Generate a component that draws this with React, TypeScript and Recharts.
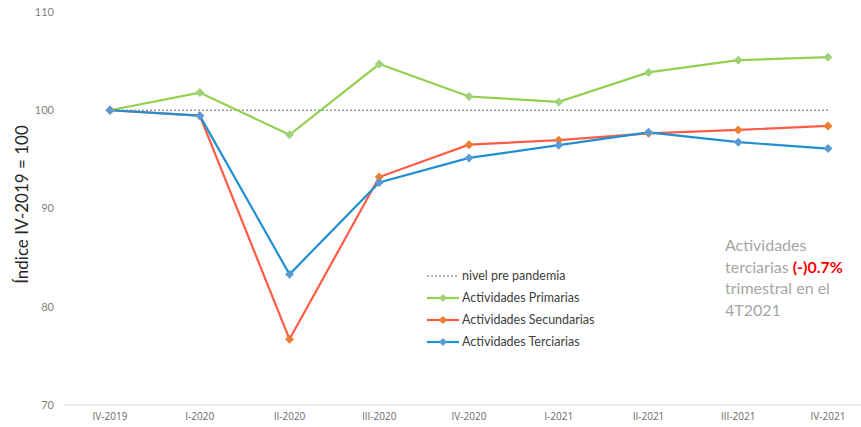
import React from 'react';
import { LineChart, Line, XAxis, YAxis } from 'recharts';

const quarters = ['IV-2019', 'I-2020', 'II-2020', 'III-2020', 'IV-2020', 'I-2021', 'II-2021', 'III-2021', 'IV-2021'];
const nivel = [100, 100, 100, 100, 100, 100, 100, 100, 100];
const primarias = [100, 101.8, 97.5, 104.7, 101.4, 100.85, 103.85, 105.1, 105.4];
const secundarias = [100, 99.45, 76.7, 93.2, 96.5, 96.95, 97.65, 98.0, 98.4];
const terciarias = [100, 99.45, 83.3, 92.65, 95.15, 96.45, 97.75, 96.75, 96.1];
const yTicks = [70, 80, 90, 100, 110];

const data = quarters.map((q, i) => ({
  q,
  nivel: nivel[i],
  primarias: primarias[i],
  secundarias: secundarias[i],
  terciarias: terciarias[i],
}));

const series = [
  { key: 'primarias', name: 'Actividades Primarias', line: '#92d050', dot: '#9fd27a' },
  { key: 'secundarias', name: 'Actividades Secundarias', line: '#ff5b45', dot: '#ed7d31' },
  { key: 'terciarias', name: 'Actividades Terciarias', line: '#2190d0', dot: '#5b9bd5' },
];

const Diamond = (color: string) => (props: any) => {
  const { cx, cy } = props;
  if (cx == null || cy == null) return null;
  const r = 4.5;
  return (
    <path
      d={`M${cx},${cy - r} L${cx + r},${cy} L${cx},${cy + r} L${cx - r},${cy} Z`}
      fill={color}
    />
  );
};

const font = 'Lato, "Open Sans", sans-serif';

export default function App() {
  return (
    <div style={{ position: 'absolute', left: 0, top: 0, width: 861, height: 427, overflow: 'hidden', background: '#fff', fontFamily: font }}>
      <LineChart width={873} height={427} data={data} margin={{ top: 12, right: 0, left: 0, bottom: 0 }}>
        <XAxis
          dataKey="q"
          height={22}
          padding={{ left: 45, right: 45 }}
          tickLine={false}
          axisLine={{ stroke: '#d9d9d9', strokeWidth: 1 }}
          tick={{ fontSize: 10, fill: '#6a6a6a', fontFamily: '"Open Sans", sans-serif' }}
          interval={0}
        />
        <YAxis
          width={65}
          domain={[70, 110]}
          ticks={yTicks}
          axisLine={false}
          tickLine={false}
          tickMargin={5}
          tick={{ fontSize: 11, fill: '#7f7f7f', fontFamily: font }}
          label={{
            value: 'Índice IV-2019 = 100',
            angle: -90,
            position: 'center',
            dx: -11,
            dy: -4,
            style: { fontSize: 17, fill: '#262626', fontFamily: font, textAnchor: 'middle' },
          }}
        />
        <Line
          dataKey="nivel"
          stroke="#9a9a9a"
          strokeWidth={1.3}
          strokeDasharray="2 2"
          dot={false}
          activeDot={false}
          isAnimationActive={false}
        />
        {series.map((s) => (
          <Line
            key={s.key}
            dataKey={s.key}
            name={s.name}
            stroke={s.line}
            strokeWidth={2.2}
            dot={Diamond(s.dot)}
            activeDot={false}
            isAnimationActive={false}
          />
        ))}
      </LineChart>

      <div style={{ position: 'absolute', left: 427, top: 265, fontSize: 12.5, color: '#404040', lineHeight: '22px' }}>
        <div style={{ display: 'flex', alignItems: 'center' }}>
          <svg width={32} height={10} style={{ marginRight: 3 }}>
            <line x1={0} y1={5} x2={32} y2={5} stroke="#9a9a9a" strokeWidth={1.3} strokeDasharray="2 2" />
          </svg>
          <span>nivel pre pandemia</span>
        </div>
        {series.map((s) => (
          <div key={s.key} style={{ display: 'flex', alignItems: 'center' }}>
            <svg width={32} height={10} style={{ marginRight: 3 }}>
              <line x1={0} y1={5} x2={32} y2={5} stroke={s.line} strokeWidth={2.2} />
              <path d="M16,1 L20,5 L16,9 L12,5 Z" fill={s.dot} />
            </svg>
            <span>{s.name}</span>
          </div>
        ))}
      </div>

      <div style={{ position: 'absolute', left: 725, top: 234, fontSize: 16, lineHeight: '21.5px', color: '#a6a6a6' }}>
        <div>Actividades</div>
        <div>
          terciarias <span style={{ color: '#ff0000', fontWeight: 'bold' }}>(-)0.7%</span>
        </div>
        <div>trimestral en el</div>
        <div>4T2021</div>
      </div>
    </div>
  );
}
